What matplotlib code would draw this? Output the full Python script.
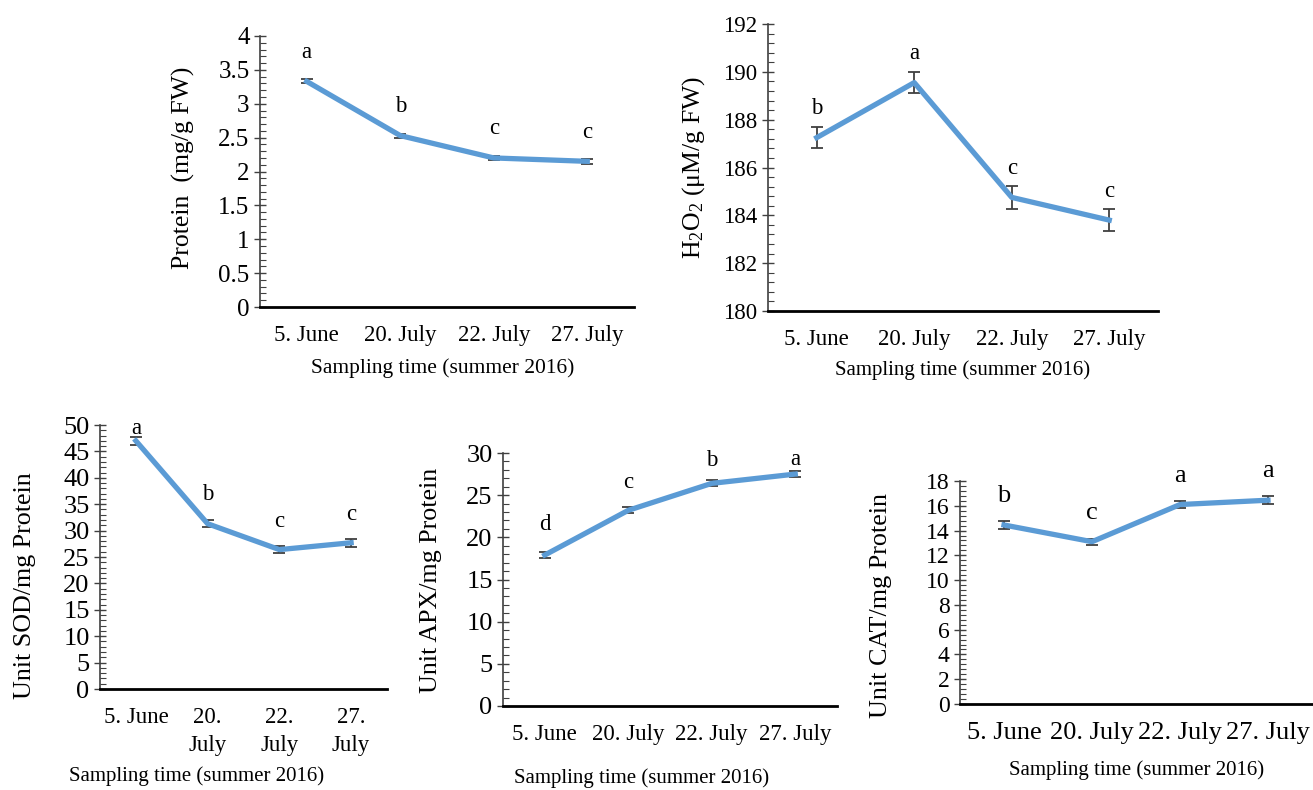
import numpy as np
import matplotlib
matplotlib.use('Agg')
import matplotlib.pyplot as plt
from matplotlib.ticker import MultipleLocator, FuncFormatter

plt.rcParams['font.family'] = ['Liberation Serif', 'DejaVu Serif']
plt.rcParams['mathtext.fontset'] = 'custom'
plt.rcParams['mathtext.rm'] = 'Liberation Serif'
plt.rcParams['mathtext.it'] = 'Liberation Serif:italic'

# Dados
datas = ['5. June', '20. July', '22. July', '27. July']
datas_sod = ['5. June', '20.\nJuly', '22.\nJuly', '27.\nJuly']

protein = [3.33, 2.53, 2.20, 2.15]
protein_err = [0.03, 0.03, 0.03, 0.04]
protein_let = ['a', 'b', 'c', 'c']

h2o2 = [187.25, 189.55, 184.75, 183.80]
h2o2_err = [0.45, 0.45, 0.48, 0.47]
h2o2_let = ['b', 'a', 'c', 'c']

sod = [47.0, 31.3, 26.4, 27.7]
sod_err = [0.7, 0.7, 0.7, 0.8]
sod_let = ['a', 'b', 'c', 'c']

apx = [17.9, 23.2, 26.4, 27.5]
apx_err = [0.35, 0.35, 0.35, 0.35]
apx_let = ['d', 'c', 'b', 'a']

cat = [14.45, 13.1, 16.1, 16.45]
cat_err = [0.3, 0.25, 0.3, 0.3]
cat_let = ['b', 'c', 'a', 'a']

W, H = 1313, 790
fig = plt.figure(figsize=(W / 100, H / 100), dpi=100)

AZUL = '#5B9BD5'
CINZA = '#404040'


def painel(caixa, valores, erros, letras, rotulos, ylim, passo, menor,
           ylabel, ylab_pos, xlab_pos, fs_ytick=18, fs_xtick=16.5, fs_ylab=18.5,
           fs_xlab=15, desloc=None):
    esq, topo, dir_, base = caixa
    ax = fig.add_axes([esq / W, 1 - base / H, (dir_ - esq) / W, (base - topo) / H])
    x = np.arange(len(valores))
    ax.errorbar(x, valores, yerr=erros, color=AZUL, lw=3.8, ecolor=CINZA,
                elinewidth=1.3, capsize=4.5, capthick=1.3, zorder=3)
    ax.set_xlim(-0.5, len(valores) - 0.5)
    ax.set_ylim(*ylim)
    ax.yaxis.set_major_locator(MultipleLocator(passo))
    ax.yaxis.set_minor_locator(MultipleLocator(menor))
    ax.yaxis.set_major_formatter(FuncFormatter(lambda v, p: f'{v:g}'))
    ax.set_xticks(x)
    ax.set_xticklabels(rotulos, fontsize=fs_xtick, va='top', linespacing=1.45)
    ax.tick_params(axis='x', length=0, pad=13)
    ax.tick_params(axis='y', which='major', direction='inout', length=9,
                   width=1, labelsize=fs_ytick, pad=3, color=CINZA)
    ax.tick_params(axis='y', which='minor', direction='in', length=4,
                   width=0.8, color=CINZA)
    for lado in ['top', 'right']:
        ax.spines[lado].set_visible(False)
    ax.spines['left'].set_color(CINZA)
    ax.spines['left'].set_linewidth(1.2)
    ax.spines['bottom'].set_linewidth(2)
    ax.patch.set_alpha(0)

    for i, (v, l) in enumerate(zip(valores, letras)):
        off = 29 if desloc is None else desloc[i]
        ax.annotate(l, (i, v), xytext=(0, off), textcoords='offset pixels',
                    ha='center', va='center', fontsize=fs_xtick, clip_on=False)

    ax.set_ylabel(ylabel, fontsize=fs_ylab, va='center')
    ax.yaxis.set_label_coords((ylab_pos[0] - esq) / (dir_ - esq),
                              (base - ylab_pos[1]) / (base - topo))
    fig.text(xlab_pos[0] / W, 1 - xlab_pos[1] / H, 'Sampling time (summer 2016)',
             ha='center', va='center', fontsize=fs_xlab)
    return ax


painel((260, 36, 634, 307), protein, protein_err, protein_let, datas,
       (0, 4), 0.5, 0.1, 'Protein  (mg/g FW)', (183, 168), (443, 368),
       fs_xlab=15.5)

painel((768, 24, 1158, 311), h2o2, h2o2_err, h2o2_let, datas,
       (180, 192), 2, 0.4, 'H$_2$O$_2$ (μM/g FW)', (694, 167), (963, 370),
       fs_ytick=16.5, fs_ylab=18.5)

painel((100, 425, 387, 689), sod, sod_err, sod_let, datas_sod,
       (0, 50), 5, 1, 'Unit SOD/mg Protein', (25, 586), (197, 776),
       fs_ytick=19, fs_ylab=18.7, desloc=[12, 29, 28, 28])

painel((503, 453, 837, 706), apx, apx_err, apx_let, datas,
       (0, 30), 5, 1, 'Unit APX/mg Protein', (431, 580), (642, 778),
       fs_ytick=19, fs_ylab=18.7, desloc=[31, 28, 23, 15])

painel((960, 481, 1312, 704), cat, cat_err, cat_let, datas,
       (0, 18), 2, 0.4, 'Unit CAT/mg Protein', (881, 605), (1137, 770),
       fs_ytick=17, fs_xtick=19, fs_ylab=18.8)

fig.savefig('out.png', dpi=100, facecolor='white')
